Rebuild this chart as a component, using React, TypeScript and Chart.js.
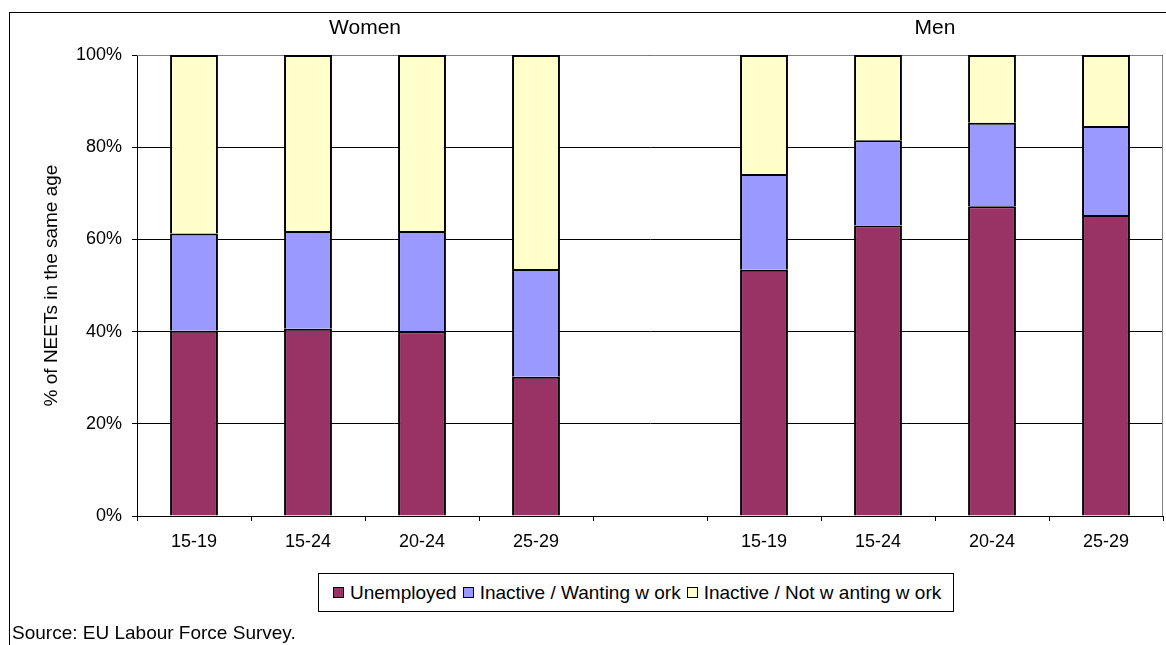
import React, { useEffect, useRef } from "react";
import { Chart, registerables } from "chart.js";

Chart.register(...registerables);

const categories = ["15-19", "15-24", "20-24", "25-29", "", "15-19", "15-24", "20-24", "25-29"];
const groupLabels = ["Women", "Men"];
const groupCenters = [1.5, 6.5];
const seriesNames = ["Unemployed", "Inactive / Wanting w ork", "Inactive / Not w anting w ork"];
const seriesColors = ["#993366", "#9999FF", "#FFFFCC"];
const unemployed = [40.2, 40.6, 40.1, 30.2, null, 53.4, 63.0, 67.2, 65.3];
const wanting = [21.1, 21.2, 21.7, 23.4, null, 20.8, 18.5, 18.1, 19.3];
const notWanting = [38.7, 38.2, 38.2, 46.4, null, 25.8, 18.5, 14.7, 15.4];
const yTicks = [0, 20, 40, 60, 80, 100];
const yTitle = "% of NEETs in the same age";
const sourceText = "Source: EU Labour Force Survey.";

const FONT = "'Liberation Sans', Arial, sans-serif";

export default function App() {
  const ref = useRef<HTMLCanvasElement | null>(null);

  useEffect(() => {
    const canvas = ref.current;
    if (!canvas) return;
    const plotBorder = {
      id: "plotBorder",
      beforeDatasetsDraw(chart: any) {
        const { ctx, chartArea } = chart;
        ctx.save();
        ctx.strokeStyle = "#808080";
        ctx.lineWidth = 1;
        ctx.beginPath();
        ctx.moveTo(chartArea.left, chartArea.top + 0.5);
        ctx.lineTo(chartArea.right - 0.5, chartArea.top + 0.5);
        ctx.lineTo(chartArea.right - 0.5, chartArea.bottom);
        ctx.stroke();
        ctx.restore();
      },
      afterDraw(chart: any) {
        const { ctx } = chart;
        const xs = chart.scales.x;
        ctx.save();
        ctx.fillStyle = "#000";
        ctx.font = `21px ${FONT}`;
        ctx.textAlign = "center";
        ctx.textBaseline = "middle";
        groupLabels.forEach((g, i) => {
          const c = groupCenters[i];
          const x = (xs.getPixelForValue(Math.floor(c)) + xs.getPixelForValue(Math.ceil(c))) / 2;
          ctx.fillText(g, x, 28);
        });
        ctx.restore();
      },
    };
    const data = [unemployed, wanting, notWanting];
    const chart = new Chart(canvas, {
      type: "bar",
      data: {
        labels: categories,
        datasets: seriesNames.map((n, i) => ({
          label: n,
          data: data[i] as any,
          backgroundColor: seriesColors[i],
          borderColor: "#000",
          borderWidth: 2,
          barPercentage: 0.42,
          categoryPercentage: 1,
        })),
      },
      options: {
        responsive: false,
        animation: false,
        devicePixelRatio: 1,
        layout: { padding: { top: 55, right: 3, bottom: 89, left: 0 } },
        plugins: { legend: { display: false }, tooltip: { enabled: false } },
        scales: {
          x: {
            stacked: true,
            afterFit: (s: any) => { s.height = 40; },
            grid: { offset: true, drawOnChartArea: false, tickLength: 5, color: "#000" },
            border: { color: "#000" },
            ticks: { color: "#000", font: { family: FONT, size: 18 }, padding: 10, maxRotation: 0, autoSkip: false },
          },
          y: {
            stacked: true,
            min: 0,
            max: 100,
            afterFit: (s: any) => { s.width = 137; },
            afterBuildTicks: (s: any) => { s.ticks = yTicks.map((v) => ({ value: v })); },
            grid: { color: "#000", tickLength: 5 },
            border: { color: "#000" },
            ticks: { color: "#000", font: { family: FONT, size: 18 }, padding: 10, callback: (v: any) => v + "%" },
            title: { display: true, text: yTitle, color: "#000", font: { family: FONT, size: 19 }, padding: { top: 40, bottom: 0 } },
          },
        },
      },
      plugins: [plotBorder],
    });
    return () => chart.destroy();
  }, []);

  return (
    <div style={{ position: "absolute", left: 0, top: 0, width: 1166, height: 645, overflow: "hidden", background: "#fff", fontFamily: FONT }}>
      <div style={{ position: "absolute", left: 9, top: 12, width: 1200, height: 700, border: "1px solid #000" }} />
      <canvas ref={ref} width={1166} height={645} style={{ position: "absolute", left: 0, top: 0 }} />
      <div style={{ position: "absolute", left: 318, top: 573, width: 636, height: 39, border: "1px solid #000", background: "#fff", display: "flex", alignItems: "center", paddingLeft: 14, boxSizing: "border-box", fontSize: 19, color: "#000", whiteSpace: "nowrap" }}>
        {seriesNames.map((n, i) => (
          <span key={n} style={{ display: "flex", alignItems: "center", marginRight: 6 }}>
            <span style={{ display: "inline-block", width: 9, height: 9, border: "1px solid #000", background: seriesColors[i], marginRight: 6 }} />
            {n}
          </span>
        ))}
      </div>
      <div style={{ position: "absolute", left: 12, top: 622, fontSize: 19, color: "#000", whiteSpace: "nowrap" }}>{sourceText}</div>
    </div>
  );
}
